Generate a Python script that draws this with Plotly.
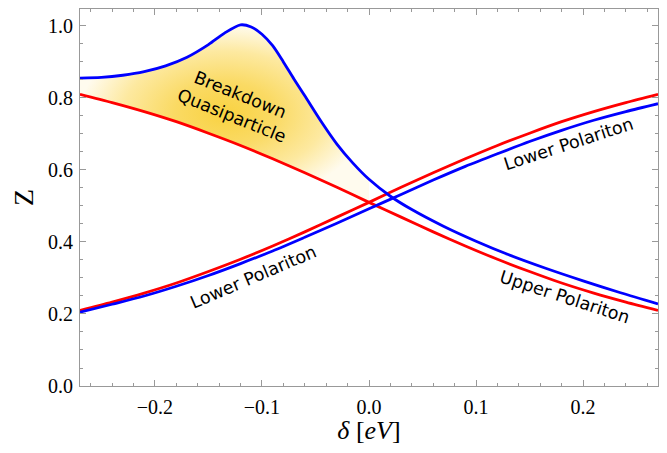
import numpy as np
import plotly.graph_objects as go

# ---- data ----
red_delta = [-0.27, -0.24, -0.21, -0.18, -0.15, -0.12, -0.09, -0.06, -0.03, 0.0,
             0.03, 0.06, 0.09, 0.12, 0.15, 0.18, 0.21, 0.24, 0.27]
red_up = [0.210, 0.233, 0.258, 0.286, 0.318, 0.352, 0.389, 0.428, 0.469, 0.510,
          0.552, 0.592, 0.631, 0.668, 0.702, 0.734, 0.762, 0.787, 0.810]
red_down = [0.810, 0.787, 0.762, 0.734, 0.702, 0.668, 0.631, 0.592, 0.552, 0.510,
            0.469, 0.428, 0.389, 0.352, 0.318, 0.286, 0.258, 0.233, 0.210]

blue_up_delta = red_delta
blue_up = [0.205, 0.227, 0.250, 0.277, 0.307, 0.340, 0.375, 0.413, 0.452, 0.492,
           0.532, 0.572, 0.610, 0.645, 0.679, 0.710, 0.738, 0.762, 0.784]

blue_down_delta = [-0.27, -0.25, -0.23, -0.21, -0.19, -0.17, -0.15, -0.135, -0.12, -0.11,
                   -0.10, -0.09, -0.08, -0.07, -0.06, -0.045, -0.03, -0.015, 0.0, 0.02,
                   0.04, 0.07, 0.10, 0.13, 0.165, 0.20, 0.235, 0.27]
blue_down = [0.855, 0.857, 0.863, 0.873, 0.889, 0.913, 0.948, 0.980, 1.003, 0.997,
             0.977, 0.945, 0.900, 0.852, 0.806, 0.736, 0.672, 0.619, 0.574, 0.527,
             0.490, 0.443, 0.402, 0.365, 0.327, 0.292, 0.259, 0.228]

x_ticks = [-0.2, -0.1, 0.0, 0.1, 0.2]
y_ticks = [0.0, 0.2, 0.4, 0.6, 0.8, 1.0]

# ---- fill region (between blue_down and the red curves, left of the crossing) ----
bd_x = np.array(blue_down_delta)
bd_y = np.array(blue_down)
mask = bd_x <= 0.016
ux = bd_x[mask]
uy = bd_y[mask]
low = np.maximum(np.interp(ux, red_delta, red_down), np.interp(ux, red_delta, red_up))
low = np.minimum(low, uy)
poly_x = list(ux) + list(ux[::-1])
poly_y = list(uy) + list(low[::-1])

fig = go.Figure()
fig.add_trace(go.Scatter(
    x=poly_x, y=poly_y, mode="none", fill="toself",
    fillgradient=dict(type="radial",
                      colorscale=[[0, "rgb(249,210,65)"], [0.35, "rgb(250,218,100)"],
                                  [0.7, "rgb(253,233,160)"], [1, "rgb(255,251,238)"]]),
    hoverinfo="skip", showlegend=False))

LW = 2.8
SM = 0.8
fig.add_trace(go.Scatter(x=red_delta, y=red_down, mode="lines",
                         line=dict(color="#ff0000", width=LW, shape="spline", smoothing=SM),
                         showlegend=False))
fig.add_trace(go.Scatter(x=red_delta, y=red_up, mode="lines",
                         line=dict(color="#ff0000", width=LW, shape="spline", smoothing=SM),
                         showlegend=False))
fig.add_trace(go.Scatter(x=blue_up_delta, y=blue_up, mode="lines",
                         line=dict(color="#0000ff", width=LW, shape="spline", smoothing=SM),
                         showlegend=False))
fig.add_trace(go.Scatter(x=blue_down_delta, y=blue_down, mode="lines",
                         line=dict(color="#0000ff", width=LW, shape="spline", smoothing=SM),
                         showlegend=False))

lab_font = dict(family="DejaVu Sans", size=17.5, color="black")
fig.add_annotation(x=-0.124, y=0.778, text="Breakdown<br>Quasiparticle", showarrow=False,
                   textangle=22, font=lab_font)
fig.add_annotation(x=-0.108, y=0.302, text="Lower Polariton", showarrow=False,
                   textangle=-23, font=lab_font)
fig.add_annotation(x=0.186, y=0.673, text="Lower Polariton", showarrow=False,
                   textangle=-18, font=lab_font)
fig.add_annotation(x=0.183, y=0.247, text="Upper Polariton", showarrow=False,
                   textangle=18, font=lab_font)

axis_common = dict(showline=True, linecolor="#999999", linewidth=1, mirror="ticks",
                   ticks="inside", ticklen=6, tickcolor="#999999", showgrid=False,
                   zeroline=False, automargin=False,
                   tickfont=dict(family="Liberation Serif", size=20, color="black"))

fig.update_xaxes(range=[-0.27, 0.27], tickvals=x_ticks,
                 ticktext=[f"{v:.1f}".replace("-", "\u2212") for v in x_ticks],
                 minor=dict(dtick=0.02, ticks="inside", ticklen=3, tickcolor="#999999"),
                 title=dict(text="<i>δ</i> [<i>eV</i>]", standoff=6,
                            font=dict(family="Liberation Serif", size=26, color="black")),
                 ticklabelstandoff=3, **axis_common)
fig.update_yaxes(range=[0, 1.047], tickvals=y_ticks, ticktext=[f"{v:.1f}" for v in y_ticks],
                 minor=dict(dtick=0.05, ticks="inside", ticklen=3, tickcolor="#999999"),
                 title=dict(text="Z", standoff=14,
                            font=dict(family="Liberation Serif", size=28, color="black")),
                 ticklabelstandoff=2, **axis_common)

# the page body adds an 8px offset, so the figure is sized to fit inside it
fig.update_layout(width=651, height=437, margin=dict(l=72, r=1, t=1, b=59),
                  plot_bgcolor="white", paper_bgcolor="white")
fig.write_html("out.html")
